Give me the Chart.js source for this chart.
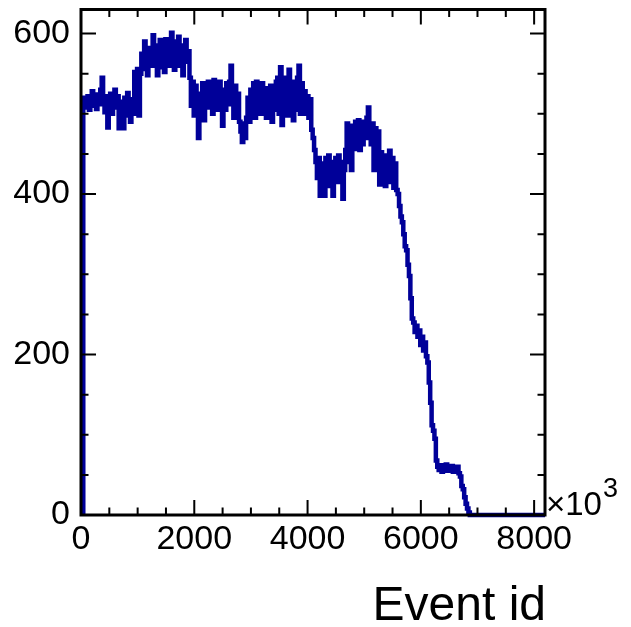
<!DOCTYPE html>
<html>
<head>
<meta charset="utf-8">
<script src="https://cdn.jsdelivr.net/npm/chart.js@4.4.1/dist/chart.umd.min.js"></script>
<style>
  html, body { margin: 0; padding: 0; background: #fff; }
  canvas { display: block; }
</style>
</head>
<body>
<canvas id="rateChart" width="631" height="627"></canvas>
<script>
// entries per bin of 25 (x10^3 events); first bin starts at firstEdge
const firstEdge = 40;
const binWidth = 25;
const counts = [
  520, 508, 512, 522, 505, 518, 528, 510, 521,
  506, 524, 512, 530, 545, 515, 502, 522, 483, 510,
  525, 500, 519, 530, 508, 522, 482, 515, 500, 482,
  520, 498, 526, 505, 490, 518, 500, 552, 530, 556,
  498, 550, 575, 556, 590, 565, 548, 582, 560, 578,
  598, 560, 585, 548, 575, 592, 558, 580, 552, 593,
  570, 585, 560, 601, 575, 555, 590, 568, 596, 560,
  585, 548, 580, 592, 565, 578, 545, 510, 540, 498,
  535, 500, 470, 525, 505, 538, 492, 520, 508, 540,
  510, 538, 500, 542, 515, 528, 505, 540, 512, 485,
  530, 505, 538, 512, 540, 560, 520, 495, 535, 508,
  525, 490, 478, 465, 488, 470, 495, 520, 490, 530,
  505, 538, 495, 540, 510, 530, 500, 538, 512, 532,
  495, 528, 508, 535, 490, 530, 505, 540, 545, 500,
  558, 486, 530, 505, 545, 498, 555, 510, 540, 492,
  535, 505, 545, 560, 500, 538, 515, 528, 500, 522,
  495, 518, 480, 470, 455, 440, 420, 445, 398, 438,
  420, 398, 445, 425, 448, 410, 440, 398, 428, 445,
  415, 448, 425, 440, 394, 430, 455, 488, 440, 470,
  430, 485, 456, 490, 465, 492, 455, 488, 462, 490,
  470, 495, 508, 480, 462, 488, 430, 482, 440, 478,
  412, 452, 425, 448, 410, 440, 420, 454, 415, 445,
  408, 438, 405, 400, 385, 372, 365, 350, 335, 330,
  312, 298, 270, 245, 240, 228, 236, 222, 230, 212,
  222, 205, 215, 198, 190, 165, 140, 112, 105, 95,
  68, 60, 56, 62, 54, 60, 57, 63, 55, 60,
  56, 61, 54, 59, 56, 60, 52, 48, 36, 32,
  22, 14, 8, 3, 0, 0, 0, 0, 0, 0,
  0, 0, 0, 0, 0, 0, 0, 0, 0, 0,
  0, 0, 0, 0, 0, 0, 0, 0, 0, 0,
  0, 0, 0, 0, 0, 0, 0, 0, 0, 0,
  0, 0, 0, 0, 0, 0, 0, 0, 0, 0,
  0, 0, 0, 0, 0, 0, 0, 0, 0, 0
];

const xMax = 8192;
const yMax = 630;
const xMajorTicks = [0, 2000, 4000, 6000, 8000];
const yMajorTicks = [0, 200, 400, 600];
const xMinorStep = 500;
const yMinorStep = 50;
const xTitle = 'Event id';
const xMultiplier = '\u00d710';
const xExponent = '3';

const lineColor = '#000099';
const fontFamily = '"Liberation Sans", Arial, sans-serif';

// histogram outline: rises from zero at the first bin edge
const points = [{ x: firstEdge, y: 0 }].concat(
  counts.map((c, i) => ({ x: firstEdge + i * binWidth, y: c }))
);

// ROOT-like frame: ticks inside on all four sides, labels outside
const rootFrame = {
  id: 'rootFrame',
  afterDatasetsDraw(chart) {
    const { ctx, chartArea: a, scales: { x, y } } = chart;
    ctx.save();
    ctx.strokeStyle = '#000';
    ctx.lineWidth = 2;
    ctx.beginPath();
    for (let v = 0; v <= xMax; v += xMinorStep) {
      const px = x.getPixelForValue(v);
      const len = xMajorTicks.includes(v) ? 15 : 7.5;
      ctx.moveTo(px, a.bottom); ctx.lineTo(px, a.bottom - len);
      ctx.moveTo(px, a.top); ctx.lineTo(px, a.top + len);
    }
    for (let v = 0; v <= yMax; v += yMinorStep) {
      const py = y.getPixelForValue(v);
      const len = yMajorTicks.includes(v) ? 15 : 7.5;
      ctx.moveTo(a.left, py); ctx.lineTo(a.left + len, py);
      ctx.moveTo(a.right, py); ctx.lineTo(a.right - len, py);
    }
    ctx.stroke();

    ctx.lineWidth = 3;
    ctx.strokeRect(a.left, a.top, a.right - a.left, a.bottom - a.top);

    ctx.fillStyle = '#000';
    ctx.font = '34px ' + fontFamily;
    ctx.textAlign = 'right';
    ctx.textBaseline = 'middle';
    yMajorTicks.forEach(v => ctx.fillText(String(v), a.left - 11, y.getPixelForValue(v)));

    ctx.textAlign = 'center';
    ctx.textBaseline = 'alphabetic';
    xMajorTicks.forEach(v => ctx.fillText(String(v), x.getPixelForValue(v), a.bottom + 34));

    // axis multiplier
    ctx.textAlign = 'left';
    ctx.font = '33px ' + fontFamily;
    ctx.fillText(xMultiplier, a.right + 1, a.bottom);
    ctx.font = '27px ' + fontFamily;
    ctx.fillText(xExponent, a.right + 58, a.bottom - 18);

    ctx.textAlign = 'right';
    ctx.font = '48px ' + fontFamily;
    ctx.fillText(xTitle, a.right + 1, 620);
    ctx.restore();
  }
};

new Chart(document.getElementById('rateChart'), {
  type: 'line',
  data: {
    datasets: [{
      data: points,
      borderColor: lineColor,
      borderWidth: 4.5,
      pointRadius: 0,
      stepped: true,
      fill: false,
      clip: { left: 4, top: 4, right: 0, bottom: 4 }
    }]
  },
  options: {
    responsive: false,
    animation: false,
    devicePixelRatio: 1,
    layout: { padding: { left: 81, right: 86, top: 9.5, bottom: 112 } },
    plugins: { legend: { display: false }, tooltip: { enabled: false } },
    scales: {
      x: { type: 'linear', min: 0, max: xMax, display: false },
      y: { type: 'linear', min: 0, max: yMax, display: false }
    }
  },
  plugins: [rootFrame]
});
</script>
</body>
</html>
